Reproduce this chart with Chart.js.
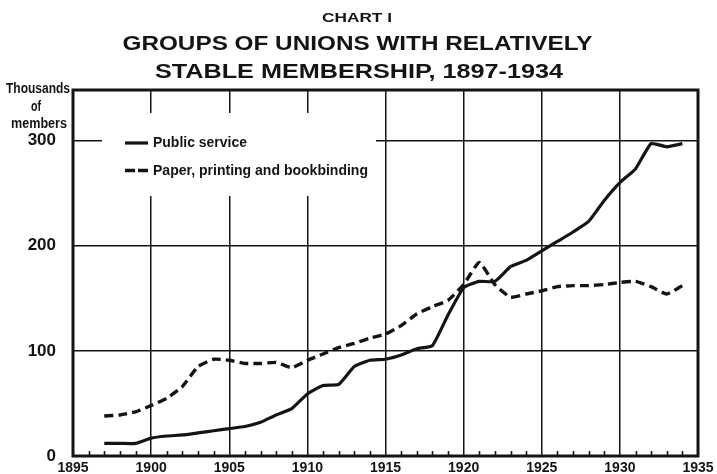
<!DOCTYPE html>
<html>
<head>
<meta charset="utf-8">
<script src="https://cdn.jsdelivr.net/npm/chart.js@4/dist/chart.umd.min.js"></script>
<style>
html,body{margin:0;padding:0;background:#fff;overflow:hidden;}
#wrap{position:relative;width:717px;height:474px;}
</style>
</head>
<body>
<div id="wrap"><canvas id="c"></canvas></div>
<script>
// ---- data ----
const years = [1897,1898,1899,1900,1901,1902,1903,1904,1905,1906,
               1907,1908,1909,1910,1911,1912,1913,1914,1915,1916,
               1917,1918,1919,1920,1921,1922,1923,1924,1925,1926,
               1927,1928,1929,1930,1931,1932,1933,1934];
const publicService = [12,12,12,17,19,20,22,24,26,28,
                       32,39,45,59,67,68,85,91,92,96,
                       102,105,134,160,166,166,180,186,195,204,
                       213,223,243,260,273,297,294,297];
const paperPrinting = [38,39,42,48,55,66,85,92,91,88,
                       88,89,84,91,97,103,107,112,116,124,
                       135,142,148,163,184,163,151,154,157,161,
                       162,162,163,165,166,161,154,162];
const xTickLabels = [1895,1900,1905,1910,1915,1920,1925,1930,1935];
const yTickValues = [0,100,200,300];
const seriesNames = ['Public service','Paper, printing and bookbinding'];
const chartLabel = 'CHART I';
const titleLines = ['GROUPS OF UNIONS WITH RELATIVELY','STABLE MEMBERSHIP, 1897-1934'];
const unitLines = ['Thousands','of','members'];

const INK = '#141414';

function fitText(ctx, text, left, baseline, width) {
  const w = ctx.measureText(text).width;
  ctx.save();
  ctx.translate(left, baseline);
  ctx.scale(width / w, 1);
  ctx.fillText(text, 0, 0);
  ctx.restore();
}
function fitCentered(ctx, text, cx, baseline, width) {
  fitText(ctx, text, cx - width / 2, baseline, width);
}

const decor = {
  id: 'decor',
  beforeDatasetsDraw(chart) {
    const ctx = chart.ctx, a = chart.chartArea;
    ctx.save();
    ctx.fillStyle = '#fff';
    ctx.fillRect(a.left + 29, a.top + 23, 274, 83);
    ctx.strokeStyle = INK;
    ctx.lineWidth = 3.2;
    ctx.beginPath();
    ctx.moveTo(a.left + 52, a.top + 53);
    ctx.lineTo(a.left + 75, a.top + 53);
    ctx.stroke();
    ctx.lineWidth = 3.4;
    ctx.beginPath();
    ctx.moveTo(a.left + 52, a.top + 80.5);
    ctx.lineTo(a.left + 62, a.top + 80.5);
    ctx.moveTo(a.left + 65, a.top + 80.5);
    ctx.lineTo(a.left + 75, a.top + 80.5);
    ctx.stroke();
    ctx.fillStyle = INK;
    ctx.textBaseline = 'alphabetic';
    ctx.textAlign = 'left';
    ctx.font = 'bold 14px "Liberation Sans", Arial, sans-serif';
    fitText(ctx, seriesNames[0], a.left + 80, a.top + 57, 94);
    fitText(ctx, seriesNames[1], a.left + 80, a.top + 84.5, 215);
    ctx.restore();
  },
  afterDatasetsDraw(chart) {
    const ctx = chart.ctx, a = chart.chartArea, xs = chart.scales.x;
    ctx.save();
    ctx.strokeStyle = INK;
    ctx.lineWidth = 1.6;
    ctx.beginPath();
    for (let yr = xs.min + 1; yr < xs.max; yr++) {
      if (yr % 5 === 0) continue;
      const px = Math.round(xs.getPixelForValue(yr)) + 0.5;
      ctx.moveTo(px, a.bottom);
      ctx.lineTo(px, a.bottom - 5);
    }
    ctx.stroke();
    ctx.lineWidth = 3;
    ctx.strokeRect(a.left, a.top, a.right - a.left, a.bottom - a.top);
    ctx.restore();
  },
  afterDraw(chart) {
    const ctx = chart.ctx;
    ctx.save();
    ctx.fillStyle = INK;
    ctx.textBaseline = 'alphabetic';
    ctx.textAlign = 'left';
    ctx.font = 'bold 12px "Liberation Sans", Arial, sans-serif';
    fitCentered(ctx, chartLabel, 357, 21.5, 70);
    ctx.font = 'bold 21px "Liberation Sans", Arial, sans-serif';
    fitCentered(ctx, titleLines[0], 357.5, 50, 470);
    fitCentered(ctx, titleLines[1], 359, 78, 408);
    ctx.font = 'bold 14px "Liberation Sans", Arial, sans-serif';
    fitCentered(ctx, unitLines[0], 38, 93, 64);
    fitCentered(ctx, unitLines[1], 36, 111, 10);
    fitCentered(ctx, unitLines[2], 39, 128, 56);
    ctx.restore();
  }
};

const mk = arr => years.map((yr, i) => ({x: yr, y: arr[i]}));

new Chart(document.getElementById('c'), {
  type: 'line',
  data: {
    datasets: [
      {label: seriesNames[0], data: mk(publicService), borderColor: INK, borderWidth: 3.2,
       pointRadius: 0, tension: 0.15, fill: false},
      {label: seriesNames[1], data: mk(paperPrinting), borderColor: INK, borderWidth: 3.4,
       borderDash: [9, 5], pointRadius: 0, tension: 0.15, fill: false}
    ]
  },
  options: {
    responsive: true,
    maintainAspectRatio: false,
    animation: false,
    devicePixelRatio: 1,
    layout: {autoPadding: false, padding: {top: 90, right: 19, left: 0, bottom: 0}},
    plugins: {legend: {display: false}, tooltip: {enabled: false}, title: {display: false}},
    scales: {
      x: {
        type: 'linear', min: 1895, max: 1935,
        afterBuildTicks: s => { s.ticks = xTickLabels.map(v => ({value: v})); },
        afterFit: s => { s.height = 18; s.paddingLeft = 0; s.paddingRight = 0; },
        border: {display: false},
        grid: {
          drawTicks: false, lineWidth: 1.5,
          color: c => (c.tick && (c.tick.value === 1895 || c.tick.value === 1935)) ? 'rgba(0,0,0,0)' : INK
        },
        ticks: {
          autoSkip: false, maxRotation: 0, padding: 4, color: INK,
          font: {family: '"Liberation Sans", Arial, sans-serif', weight: 'bold', size: 14},
          callback: v => String(v)
        }
      },
      y: {
        min: 0, max: 348,
        afterBuildTicks: s => { s.ticks = yTickValues.map(v => ({value: v})); },
        afterFit: s => { s.width = 73; s.paddingTop = 0; s.paddingBottom = 0; },
        border: {display: false},
        grid: {
          drawTicks: false, lineWidth: 1.4,
          color: c => (c.tick && c.tick.value === 0) ? 'rgba(0,0,0,0)' : INK
        },
        ticks: {
          padding: 17, color: INK,
          font: {family: '"Liberation Sans", Arial, sans-serif', weight: 'bold', size: 17},
          callback: v => String(v)
        }
      }
    }
  },
  plugins: [decor]
});
</script>
</body>
</html>
